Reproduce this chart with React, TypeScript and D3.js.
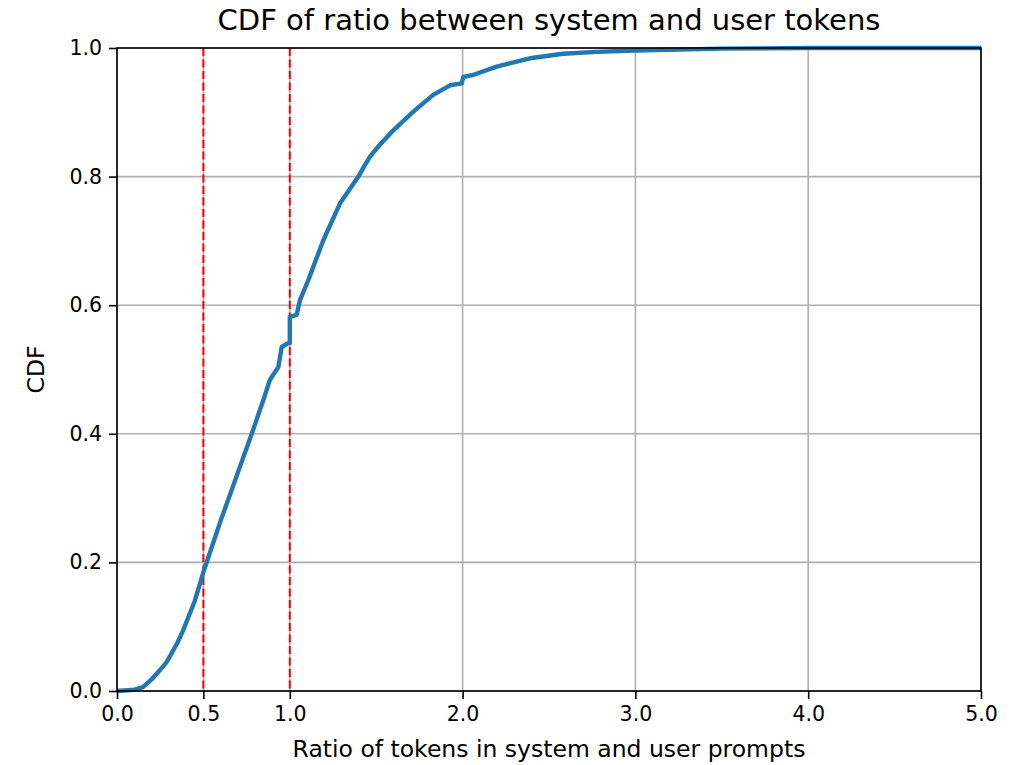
import React, { useEffect, useRef } from 'react';
import * as d3 from 'd3';

const ratioValues = [0, 0.1, 0.15, 0.2, 0.25, 0.287, 0.35, 0.384, 0.45, 0.5, 0.6, 0.615, 0.7, 0.712, 0.78, 0.85, 0.885, 0.934, 0.953, 0.99, 1.0, 1.0, 1.04, 1.059, 1.107, 1.194, 1.29, 1.397, 1.43, 1.464, 1.503, 1.599, 1.715, 1.83, 1.927, 1.995, 2.004, 2.06, 2.197, 2.39, 2.58, 2.776, 3.0, 3.5, 4.0, 5.0];
const cdfValues = [0, 0.002, 0.006, 0.018, 0.033, 0.045, 0.075, 0.095, 0.14, 0.185, 0.265, 0.276, 0.34, 0.349, 0.4, 0.455, 0.484, 0.504, 0.535, 0.541, 0.541, 0.582, 0.585, 0.608, 0.639, 0.701, 0.758, 0.8, 0.816, 0.831, 0.844, 0.872, 0.901, 0.927, 0.942, 0.945, 0.955, 0.958, 0.971, 0.984, 0.991, 0.994, 0.996, 0.999, 1.0, 1.0];

const xTicks = [0, 0.5, 1, 2, 3, 4, 5];
const yTicks = [0, 0.2, 0.4, 0.6, 0.8, 1.0];
const markers = [0.5, 1.0];

const App = () => {
  const svgRef = useRef<SVGSVGElement>(null);

  useEffect(() => {
    const outerWidth = 1022;
    const outerHeight = 765;
    const margin = { top: 48, right: 41, bottom: 74, left: 117 };
    const width = outerWidth - margin.left - margin.right;
    const height = outerHeight - margin.top - margin.bottom;
    const font = 'DejaVu Sans, sans-serif';

    const root = d3.select(svgRef.current);
    root.selectAll('*').remove();
    root.attr('width', outerWidth).attr('height', outerHeight);

    const svg = root.append('g')
      .attr('transform', `translate(${margin.left},${margin.top})`);

    const x = d3.scaleLinear().domain([0, 5]).range([0, width]);
    const y = d3.scaleLinear().domain([0, 1]).range([height, 0]);

    // grid
    svg.append('g')
      .selectAll('line')
      .data(xTicks)
      .join('line')
      .attr('x1', d => x(d)).attr('x2', d => x(d))
      .attr('y1', 0).attr('y2', height)
      .attr('stroke', '#b0b0b0')
      .attr('stroke-width', 1.6);

    svg.append('g')
      .selectAll('line')
      .data(yTicks)
      .join('line')
      .attr('x1', 0).attr('x2', width)
      .attr('y1', d => y(d)).attr('y2', d => y(d))
      .attr('stroke', '#b0b0b0')
      .attr('stroke-width', 1.6);

    // red reference lines
    svg.append('g')
      .selectAll('line')
      .data(markers)
      .join('line')
      .attr('x1', d => x(d)).attr('x2', d => x(d))
      .attr('y1', 0).attr('y2', height)
      .attr('stroke', 'red')
      .attr('stroke-width', 2)
      .attr('stroke-dasharray', '8,3.5');

    const points = ratioValues.map((v, i) => [v, cdfValues[i]] as [number, number]);
    const line = d3.line<[number, number]>()
      .x(d => x(d[0]))
      .y(d => y(d[1]));

    svg.append('path')
      .datum(points)
      .attr('fill', 'none')
      .attr('stroke', '#1f77b4')
      .attr('stroke-width', 4.4)
      .attr('stroke-linejoin', 'round')
      .attr('d', line);

    // axes
    const xAxis = svg.append('g')
      .attr('transform', `translate(0,${height})`)
      .call(d3.axisBottom(x).tickValues(xTicks).tickFormat(d3.format('.1f')).tickSize(8).tickPadding(7));
    const yAxis = svg.append('g')
      .call(d3.axisLeft(y).tickValues(yTicks).tickFormat(d3.format('.1f')).tickSize(8).tickPadding(7));

    [xAxis, yAxis].forEach(a => {
      a.select('.domain').remove();
      a.selectAll('line').attr('stroke', 'black').attr('stroke-width', 1.6);
      a.selectAll('text').attr('font-family', font).attr('font-size', 20.5).attr('fill', 'black');
    });

    svg.append('rect')
      .attr('width', width)
      .attr('height', height)
      .attr('fill', 'none')
      .attr('stroke', 'black')
      .attr('stroke-width', 1.6);

    root.append('text')
      .attr('x', margin.left + width / 2)
      .attr('y', 30)
      .attr('text-anchor', 'middle')
      .attr('font-family', font)
      .attr('font-size', 29)
      .text('CDF of ratio between system and user tokens');

    root.append('text')
      .attr('x', margin.left + width / 2)
      .attr('y', 757)
      .attr('text-anchor', 'middle')
      .attr('font-family', font)
      .attr('font-size', 23.5)
      .text('Ratio of tokens in system and user prompts');

    root.append('text')
      .attr('transform', `translate(44,${margin.top + height / 2}) rotate(-90)`)
      .attr('text-anchor', 'middle')
      .attr('font-family', font)
      .attr('font-size', 23.5)
      .text('CDF');
  }, []);

  return (
    <div style={{ position: 'absolute', left: 0, top: 0 }}>
      <svg ref={svgRef} style={{ display: 'block', background: 'white' }}></svg>
    </div>
  );
};

export default App;
